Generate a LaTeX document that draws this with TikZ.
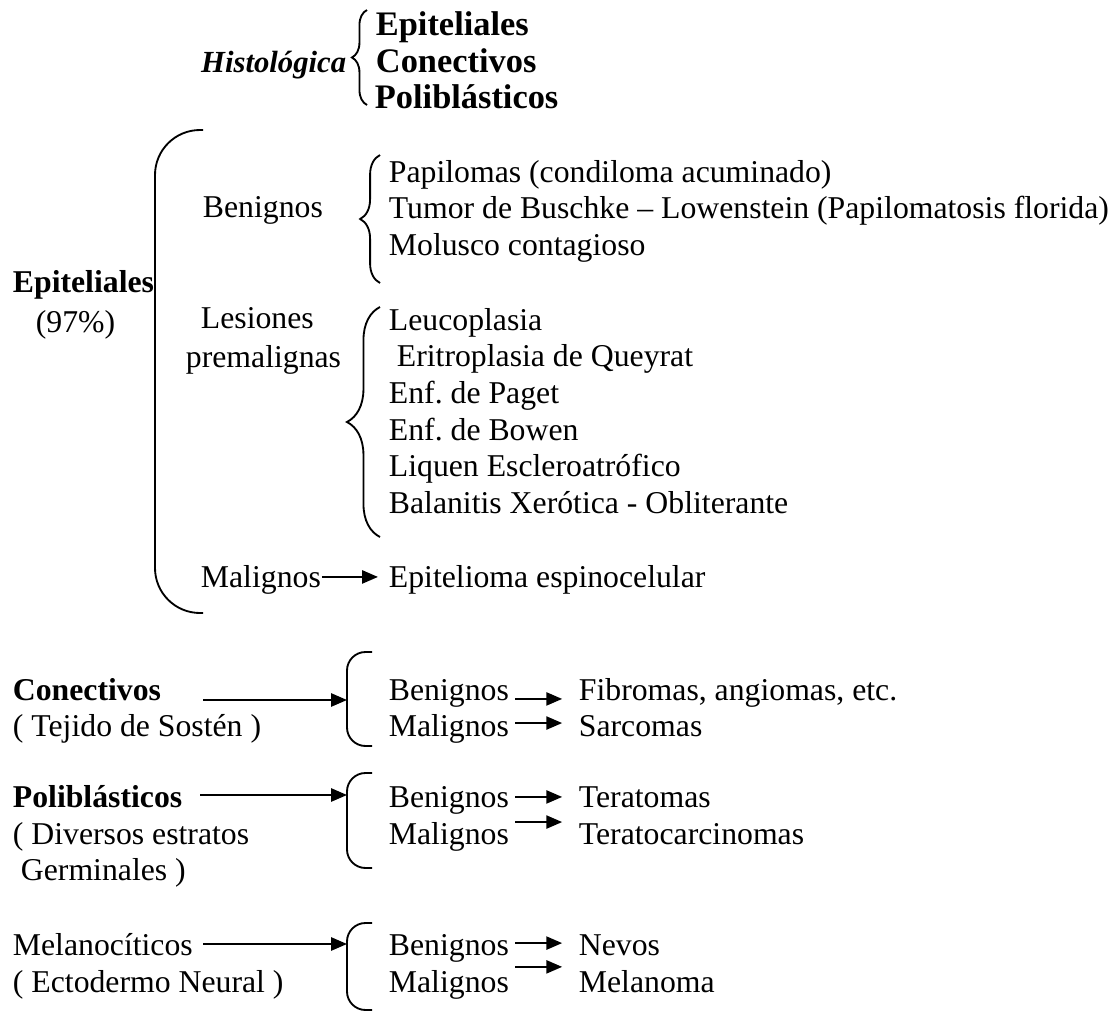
\documentclass[tikz,border=0pt]{standalone}
\usepackage{fontspec}
\setmainfont{Liberation Serif}
\usetikzlibrary{arrows.meta,decorations.pathreplacing}
\begin{document}
\begin{tikzpicture}[x=0.378pt,y=-0.378pt,line width=0.7pt,
  t/.style={anchor=base west,inner sep=0pt,font=\fontsize{12}{14}\selectfont},
  tb/.style={t,font=\fontsize{12}{14}\selectfont\bfseries},
  arr/.style={-{Triangle[length=6pt,width=5pt]}},
  sarr/.style={arr,shorten <=2pt,shorten >=6pt},
  brc/.style={decorate,decoration={brace,amplitude=#1}},
  bkt/.style={rounded corners=#1}]
\useasboundingbox (0,0) rectangle (1120,1013);
\node[t,anchor=base east,font=\fontsize{11.6}{13}\selectfont\bfseries\itshape] (hist) at (347,72) {Histológica};
\draw[brc=5.7pt] (367,105) -- (367,10);
\node[tb,font=\fontsize{13}{15}\selectfont\bfseries] (hep) at (375,35) {Epiteliales};
\node[tb,font=\fontsize{13}{15}\selectfont\bfseries] (hcon) at (375,72) {Conectivos};
\node[tb,font=\fontsize{13}{15}\selectfont\bfseries] (hpol) at (374,108) {Poliblásticos};
\node[tb] (ep) at (12,292) {Epiteliales};
\node[t] (ep2) at (35,332) {(97\%)};
\draw[bkt=17pt] (203,130) -- (155,130) -- (155,613) -- (203,613);
\node[t] (ben1) at (202,217) {Benignos};
\draw[brc=7.5pt] (380,283) -- (380,155);
\node[t] (pap) at (388,182) {Papilomas (condiloma acuminado)};
\node[t] (tum) at (388,218) {Tumor de Buschke -- Lowenstein (Papilomatosis florida)};
\node[t] (mol) at (388,255) {Molusco contagioso};
\node[t] (les) at (200,328) {Lesiones};
\node[t] (pre) at (185,367) {premalignas};
\draw[brc=12.5pt] (380,537) -- (380,307);
\node[t] (leu) at (388,330) {Leucoplasia};
\node[t] (eri) at (396,366) {Eritroplasia de Queyrat};
\node[t] (pag) at (388,403) {Enf.\ de Paget};
\node[t] (bow) at (388,440) {Enf.\ de Bowen};
\node[t] (liq) at (388,476) {Liquen Escleroatrófico};
\node[t] (bal) at (388,513) {Balanitis Xerótica - Obliterante};
\node[t] (mal1) at (200,587) {Malignos};
\node[t] (esp) at (388,587) {Epitelioma espinocelular};
\draw[arr,shorten >=3.8pt] ([yshift=3.8pt]mal1.base east) -- ([yshift=3.8pt]mal1.base east -| esp.west);
\node[tb] (con) at (12,700) {Conectivos};
\node[t] (tej) at (12,736) {( Tejido de Sostén )};
\coordinate (conA) at (203,700);
\coordinate (conB) at (347,700);
\draw[arr] (conA) -- (conB);
\draw[bkt=7pt] (372,652) -- (347,652) -- (347,746) -- (372,746);
\node[t] (ben2) at (388,700) {Benignos};
\node[t] (fib) at (578,700) {Fibromas, angiomas, etc.};
\node[t] (mal2) at (388,736) {Malignos};
\node[t] (sar) at (578,736) {Sarcomas};
\draw[sarr] ([yshift=0.4pt]ben2.base east) -- ([yshift=0.4pt]ben2.base east -| fib.west);
\draw[sarr] ([yshift=4.9pt]mal2.base east) -- ([yshift=4.9pt]mal2.base east -| sar.west);
\node[tb] (pol) at (12,807) {Poliblásticos};
\node[t] (div) at (12,844) {( Diversos estratos};
\node[t] (ger) at (20,880) {Germinales )};
\coordinate (polA) at (200,795);
\coordinate (polB) at (347,795);
\draw[arr] (polA) -- (polB);
\draw[bkt=7pt] (372,773) -- (347,773) -- (347,868) -- (372,868);
\node[t] (ben3) at (388,807) {Benignos};
\node[t] (ter) at (578,807) {Teratomas};
\node[t] (mal3) at (388,844) {Malignos};
\node[t] (tca) at (578,844) {Teratocarcinomas};
\draw[sarr] ([yshift=3.8pt]ben3.base east) -- ([yshift=3.8pt]ben3.base east -| ter.west);
\draw[sarr] ([yshift=8.3pt]mal3.base east) -- ([yshift=8.3pt]mal3.base east -| tca.west);
\node[t] (mel) at (12,955) {Melanocíticos};
\node[t] (ect) at (12,992) {( Ectodermo Neural )};
\coordinate (melA) at (203,944);
\coordinate (melB) at (347,944);
\draw[arr] (melA) -- (melB);
\draw[bkt=7pt] (372,923) -- (347,923) -- (347,1010) -- (372,1010);
\node[t] (ben4) at (388,955) {Benignos};
\node[t] (nev) at (578,955) {Nevos};
\node[t] (mal4) at (388,992) {Malignos};
\node[t] (mln) at (578,992) {Melanoma};
\draw[sarr] ([yshift=4.5pt]ben4.base east) -- ([yshift=4.5pt]ben4.base east -| nev.west);
\draw[sarr] ([yshift=9.5pt]mal4.base east) -- ([yshift=9.5pt]mal4.base east -| mln.west);
\end{tikzpicture}
\end{document}
